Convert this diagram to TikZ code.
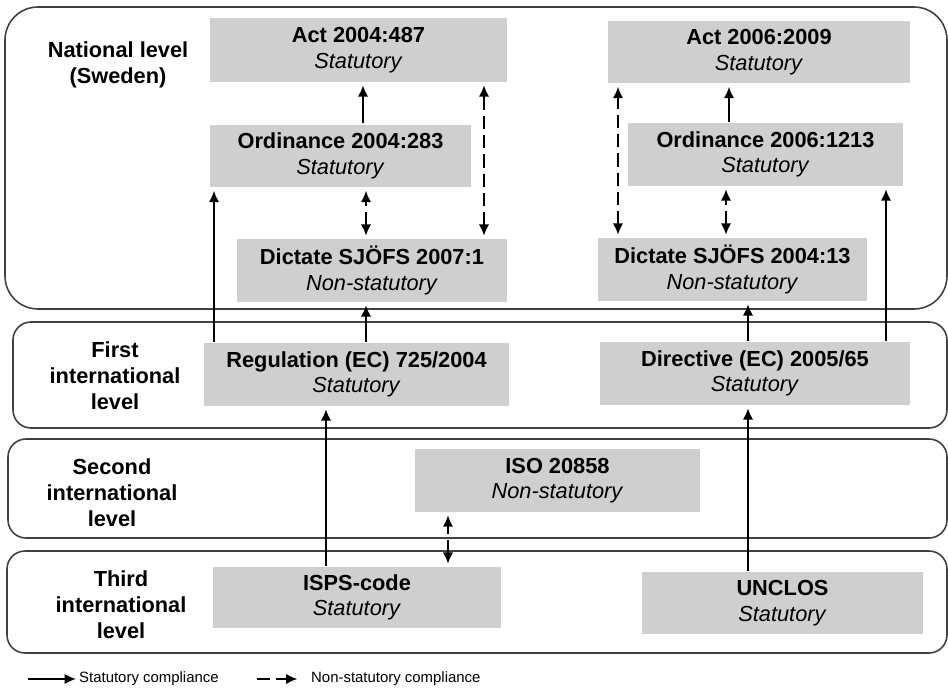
\documentclass[tikz,border=0pt]{standalone}
\usepackage{fontspec}
\setmainfont{Liberation Sans}
\usetikzlibrary{%
  arrows.meta,%
  calc%
}

\begin{document}
\begin{tikzpicture}[
  x=0.02cm, y=-0.02cm,
  font=\fontsize{12.4}{14.5}\selectfont,
  >={Latex[length=6.5pt,width=6pt]},
  line width=1.65pt,
  level/.style={draw=black!75, line width=0.9pt, rounded corners=0.36cm},
  lev/.style={font=\bfseries\fontsize{12.4}{14.8}\selectfont, align=center},
  box/.style={fill=black!19, minimum height=1.26cm, inner sep=0pt, align=center},
  stat/.style={->, shorten >=1pt},
  nstat/.style={<->, dash pattern=on 7.5pt off 3.5pt, shorten >=1pt, shorten <=1pt},
  legtext/.style={anchor=west, inner sep=1pt, font=\fontsize{8.5}{10}\selectfont},
]
\useasboundingbox (0,0) rectangle (948,690);

% levels
\draw[level, rounded corners=0.66cm] (5,7) rectangle (947,309);
\foreach \t/\b/\l in {322/428/13, 439/538/8, 551/653/7} {
  \draw[level] (\l,\t) rectangle (947,\b);
}
\node[lev] (lnat) at (118,65) {National level\\(Sweden)};
\node[lev] (lfirst) at (115,376) {First\\international\\level};
\node[lev] (lsecond) at (112,493) {Second\\international\\level};
\node[lev] (lthird) at (121,605) {Third\\international\\level};

% national
\node[box, minimum width=5.94cm, minimum height=1.28cm] (act1) at (358.5,50)
  {\textbf{Act 2004:487}\\\textit{Statutory}};
\node[box, minimum width=5.22cm] (ord1) at (340.5,156)
  {\textbf{Ordinance 2004:283}\\\textit{Statutory}};
\node[box, minimum width=5.40cm] (dic1) at (372,270.5)
  {\textbf{Dictate SJÖFS 2007:1}\\\textit{Non-statutory}};
\node[box, minimum width=6.04cm] (act2) at (759,52)
  {\textbf{Act 2006:2009}\\\textit{Statutory}};
\node[box, minimum width=5.50cm] (ord2) at (765.5,154.5)
  {\textbf{Ordinance 2006:1213}\\\textit{Statutory}};
\node[box, minimum width=5.38cm] (dic2) at (732.5,269.5)
  {\textbf{Dictate SJÖFS 2004:13}\\\textit{Non-statutory}};

% international
\node[box, minimum width=6.10cm] (reg) at (356.5,374.5)
  {\textbf{Regulation (EC) 725/2004}\\\textit{Statutory}};
\node[box, minimum width=6.20cm] (dir) at (755,373.5)
  {\textbf{Directive (EC) 2005/65}\\\textit{Statutory}};
\node[box, minimum width=5.70cm] (iso) at (557.5,480.5)
  {\textbf{ISO 20858}\\\textit{Non-statutory}};
\node[box, minimum width=5.76cm, minimum height=1.22cm] (isps) at (357,597.5)
  {\textbf{ISPS-code}\\\textit{Statutory}};
\node[box, minimum width=5.62cm, minimum height=1.24cm] (unc) at (782.5,603)
  {\textbf{UNCLOS}\\\textit{Statutory}};

% compliance
\foreach \a/\b/\x in {ord1/act1/363, reg/ord1/214, reg/dic1/366, ord2/act2/729,
    dir/ord2/886, dir/dic2/748, isps/reg/326, unc/dir/748} {
  \draw[stat] (\a.north -| \x,0) -- (\b.south -| \x,0);
}
\foreach \a/\b/\x in {dic1/act1/484, dic1/ord1/366, dic2/act2/618, dic2/ord2/726,
    isps/iso/448} {
  \draw[nstat] (\a.north -| \x,0) -- (\b.south -| \x,0);
}

% legend
\coordinate (ls) at (28,679);
\node[legtext] (lstat) at (76,679) {Statutory compliance};
\draw[stat, shorten >=0pt] (ls) -- (lstat.west);
\coordinate (ln) at (257,679);
\node[legtext] (lnon) at (308,679) {Non-statutory compliance};
\draw[nstat, ->, shorten >=0pt, shorten <=0pt] (ln) -- ([xshift=-6pt]lnon.west);

\end{tikzpicture}
\end{document}
